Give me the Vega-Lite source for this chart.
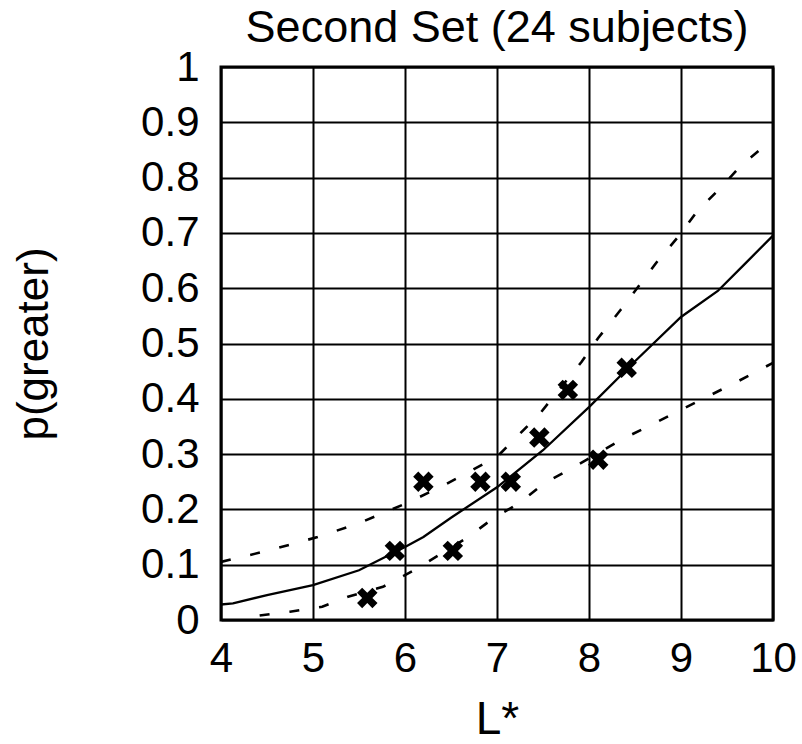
{
  "$schema": "https://vega.github.io/schema/vega-lite/v6.json",
  "autosize": "none",
  "width": 552,
  "height": 553,
  "padding": {"left": 221, "top": 67, "right": 29, "bottom": 124},
  "background": "white",
  "config": {
    "font": "Liberation Sans",
    "view": {"stroke": "black", "strokeWidth": 3}
  },
  "title": {
    "text": "Second Set (24 subjects)",
    "fontSize": 45,
    "fontWeight": "normal",
    "color": "black",
    "anchor": "middle",
    "offset": -5
  },
  "datasets": {
    "points": [
      {"L": 5.59, "p": 0.04},
      {"L": 5.89, "p": 0.125},
      {"L": 6.2, "p": 0.25},
      {"L": 6.52, "p": 0.125},
      {"L": 6.82, "p": 0.25},
      {"L": 7.15, "p": 0.25},
      {"L": 7.46, "p": 0.33},
      {"L": 7.77, "p": 0.416},
      {"L": 8.1, "p": 0.29},
      {"L": 8.41, "p": 0.456}
    ],
    "fit": [
      {"L": 4.0, "p": 0.028},
      {"L": 4.13, "p": 0.03},
      {"L": 4.5, "p": 0.045},
      {"L": 5.0, "p": 0.063},
      {"L": 5.5, "p": 0.09},
      {"L": 6.0, "p": 0.132},
      {"L": 6.2, "p": 0.15},
      {"L": 6.5, "p": 0.185},
      {"L": 7.0, "p": 0.24},
      {"L": 7.5, "p": 0.307},
      {"L": 8.0, "p": 0.385},
      {"L": 8.5, "p": 0.468},
      {"L": 9.0, "p": 0.548},
      {"L": 9.4, "p": 0.595},
      {"L": 9.7, "p": 0.645},
      {"L": 10.0, "p": 0.695}
    ],
    "upper": [
      {"L": 4.0, "p": 0.105},
      {"L": 4.5, "p": 0.125},
      {"L": 5.05, "p": 0.15},
      {"L": 5.5, "p": 0.175},
      {"L": 6.0, "p": 0.21},
      {"L": 6.38, "p": 0.24},
      {"L": 7.0, "p": 0.295},
      {"L": 7.47, "p": 0.374},
      {"L": 7.92, "p": 0.467},
      {"L": 8.1, "p": 0.51},
      {"L": 8.34, "p": 0.56},
      {"L": 8.55, "p": 0.606},
      {"L": 8.75, "p": 0.65},
      {"L": 8.97, "p": 0.693},
      {"L": 9.17, "p": 0.738},
      {"L": 9.42, "p": 0.78},
      {"L": 9.66, "p": 0.823},
      {"L": 10.0, "p": 0.87}
    ],
    "lower": [
      {"L": 4.42, "p": 0.008},
      {"L": 4.75, "p": 0.015},
      {"L": 5.1, "p": 0.024},
      {"L": 5.38, "p": 0.042},
      {"L": 5.76, "p": 0.06},
      {"L": 6.1, "p": 0.09},
      {"L": 6.49, "p": 0.13},
      {"L": 6.67, "p": 0.148},
      {"L": 6.96, "p": 0.184},
      {"L": 7.23, "p": 0.21},
      {"L": 7.52, "p": 0.248},
      {"L": 7.82, "p": 0.275},
      {"L": 8.36, "p": 0.327},
      {"L": 8.68, "p": 0.353},
      {"L": 9.0, "p": 0.38},
      {"L": 9.6, "p": 0.43},
      {"L": 10.0, "p": 0.465}
    ]
  },
  "encoding": {
    "x": {
      "field": "L",
      "type": "quantitative",
      "scale": {"domain": [4, 10], "nice": false, "zero": false},
      "axis": {
        "title": "L*",
        "values": [4, 5, 6, 7, 8, 9, 10],
        "format": "d",
        "grid": true,
        "gridColor": "black",
        "gridWidth": 2,
        "gridOpacity": 1,
        "domain": false,
        "ticks": false,
        "labelFontSize": 42,
        "labelColor": "black",
        "labelPadding": 18,
        "labelFlush": false,
        "titleFontSize": 46,
        "titleFontWeight": "normal",
        "titleColor": "black",
        "titlePadding": 18
      }
    },
    "y": {
      "field": "p",
      "type": "quantitative",
      "scale": {"domain": [0, 1], "nice": false},
      "axis": {
        "title": "p(greater)",
        "values": [0, 0.1, 0.2, 0.3, 0.4, 0.5, 0.6, 0.7, 0.8, 0.9, 1],
        "format": "~g",
        "grid": true,
        "gridColor": "black",
        "gridWidth": 2,
        "gridOpacity": 1,
        "domain": false,
        "ticks": false,
        "labelFontSize": 42,
        "labelColor": "black",
        "labelPadding": 22,
        "labelFlush": false,
        "titleFontSize": 44,
        "titleFontWeight": "normal",
        "titleColor": "black",
        "titlePadding": 84
      }
    }
  },
  "layer": [
    {
      "data": {"name": "fit"},
      "mark": {"type": "line", "color": "black", "strokeWidth": 2.3, "clip": true}
    },
    {
      "data": {"name": "upper"},
      "mark": {"type": "line", "color": "black", "strokeWidth": 2.6, "strokeDash": [10, 20], "clip": true}
    },
    {
      "data": {"name": "lower"},
      "mark": {"type": "line", "color": "black", "strokeWidth": 2.6, "strokeDash": [10, 20], "clip": true}
    },
    {
      "data": {"name": "points"},
      "mark": {
        "type": "point",
        "shape": "M-1,-0.5L-0.5,-1L0,-0.5L0.5,-1L1,-0.5L0.5,0L1,0.5L0.5,1L0,0.5L-0.5,1L-1,0.5L-0.5,0Z",
        "filled": true,
        "color": "black",
        "opacity": 1,
        "size": 420
      }
    }
  ]
}
